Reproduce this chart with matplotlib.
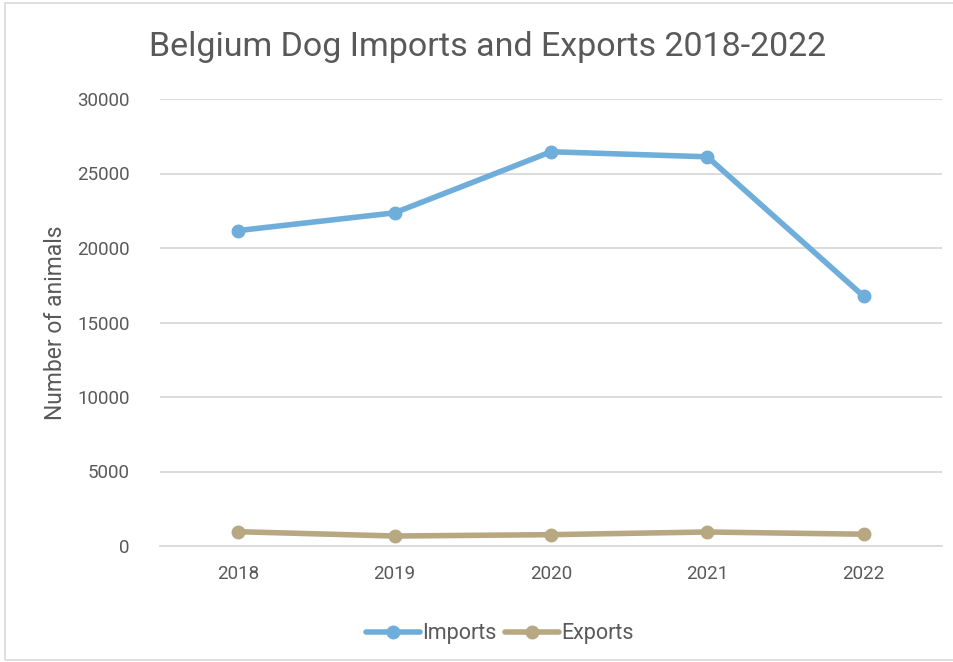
import matplotlib
matplotlib.use("Agg")
import matplotlib.pyplot as plt
from matplotlib.patches import Rectangle

years = ["2018", "2019", "2020", "2021", "2022"]
imports = [21170, 22360, 26460, 26120, 16750]
exports = [960, 670, 760, 940, 790]
yticks = [0, 5000, 10000, 15000, 20000, 25000, 30000]

plt.rcParams['font.family'] = ['Roboto', 'DejaVu Sans']
W, H = 954, 662
fig = plt.figure(figsize=(W/100, H/100), dpi=100)
ax = fig.add_axes([160/W, 1-546/H, (942-160)/W, (546-99)/H])

txt = '#595959'
blue = '#6faedb'
tan = '#b8a882'

x = list(range(len(years)))
ax.plot(x, imports, color=blue, lw=4, marker='o', ms=9, label='Imports', solid_capstyle='round')
ax.plot(x, exports, color=tan, lw=4, marker='o', ms=9, label='Exports', solid_capstyle='round')

ax.set_xlim(-0.5, len(years)-0.5)
ax.set_ylim(0, 30000)
ax.set_yticks(yticks)
ax.set_yticklabels([str(v) for v in yticks])
ax.set_xticks(x)
ax.set_xticklabels(years)
ax.grid(axis='y', color='#d9d9d9', lw=1.3)
ax.set_axisbelow(True)
for s in ['top', 'right', 'left']:
    ax.spines[s].set_visible(False)
ax.spines['bottom'].set_color('#d9d9d9')
ax.spines['bottom'].set_linewidth(1.3)
ax.tick_params(axis='both', length=0, labelsize=13.5, labelcolor=txt)
ax.tick_params(axis='y', pad=22)
ax.tick_params(axis='x', pad=14)
ax.set_ylabel('Number of animals', fontsize=16.5, color=txt, labelpad=7)

fig.text(488/W, 1-47/H, 'Belgium Dog Imports and Exports 2018-2022', ha='center', va='center',
         fontsize=24.5, color=txt)

leg = fig.legend(loc='center', bbox_to_anchor=(500/W, 1-634/H), ncol=2, frameon=False,
                 prop={'size': 15.5}, labelcolor=txt, handlelength=2.5,
                 handletextpad=0.1, columnspacing=0.4)

fig.patches.append(Rectangle((5/W, 2/H), 1-5/W+0.01, 1-5/H, transform=fig.transFigure,
                             fill=False, edgecolor='#d9d9d9', lw=1.2))

fig.savefig('out.png', dpi=100)
